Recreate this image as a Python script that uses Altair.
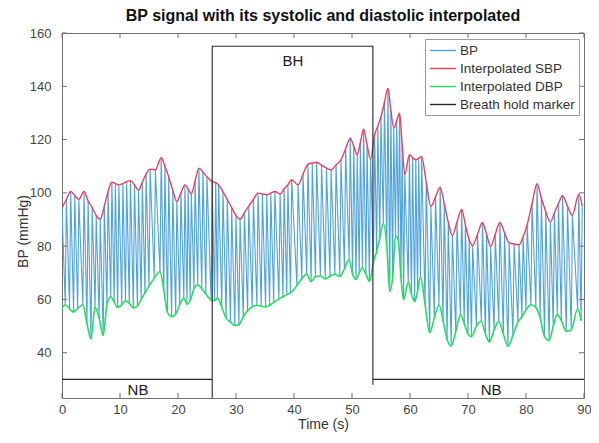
import altair as alt
import pandas as pd

FONT = "Liberation Sans"
W, H = 522, 365

# ---- data ----
beat_time = [
    0.0, 0.75, 1.5, 2.2, 2.9, 3.8, 4.5, 5.2, 5.9, 6.6,
    7.3, 7.95, 8.6, 9.2, 9.8, 10.5, 11.15, 11.8, 12.5, 13.2,
    13.85, 14.5, 15.2, 16.1, 17.1, 17.75, 18.4, 19.1, 19.8, 20.5,
    21.2, 21.75, 22.3, 22.95, 23.6, 24.3, 25.0, 25.9, 26.5, 27.0,
    27.75, 28.5, 29.25, 30.0, 30.7, 31.45, 32.2, 33.0, 33.8, 34.55,
    35.3, 36.0, 36.7, 37.6, 38.3, 38.95, 39.6, 40.7, 41.55, 42.4,
    43.15, 43.9, 44.75, 45.6, 46.4, 47.25, 48.1, 48.9, 49.7, 50.3,
    50.9, 51.45, 52.0, 52.6, 53.2, 53.9, 54.45, 55.0, 55.6, 56.2,
    56.7, 57.2, 57.7, 58.2, 58.65, 59.1, 59.9, 60.45, 61.0, 61.5,
    62.0, 62.8, 63.6, 64.4, 65.2, 65.9, 66.6, 67.3, 68.1, 68.9,
    69.55, 70.2, 70.8, 71.65, 72.5, 73.2, 73.9, 74.7, 75.5, 76.3,
    77.1, 77.95, 78.8, 79.5, 80.2, 81.05, 81.9, 82.65, 83.4, 84.2,
    84.9, 85.6, 86.3, 87.15, 88.0, 89.1, 89.7,
]
sbp = [
    94.4, 97.5, 100.5, 99.0, 97.6, 100.5, 97.0, 94.5, 91.5, 90.1,
    95.0, 100.5, 104.0, 103.5, 103.0, 103.5, 104.2, 104.6, 103.0, 101.0,
    104.0, 107.0, 108.9, 108.6, 113.2, 110.0, 106.0, 101.0, 96.7, 100.0,
    103.0, 101.5, 99.6, 104.5, 109.3, 107.8, 106.0, 104.2, 103.8, 103.0,
    100.5, 97.5, 94.5, 91.5, 90.1, 92.5, 95.0, 97.5, 99.9, 99.6,
    99.3, 99.9, 100.5, 99.6, 101.5, 103.0, 104.9, 103.0, 107.0, 110.7,
    111.2, 111.5, 110.4, 109.3, 108.6, 110.5, 112.4, 116.5, 120.5, 117.5,
    114.3, 119.0, 123.9, 118.0, 112.6, 121.8, 125.0, 128.6, 134.0, 139.3,
    131.0, 124.3, 127.0, 129.9, 118.0, 106.8, 114.3, 113.2, 112.4, 113.0,
    113.6, 104.0, 94.9, 98.5, 102.1, 96.0, 89.0, 84.0, 89.0, 93.8,
    88.0, 82.5, 80.2, 84.5, 88.9, 84.5, 79.9, 84.5, 88.9, 85.0,
    81.2, 80.8, 80.5, 83.5, 88.0, 96.0, 103.4, 98.0, 93.0, 89.0,
    92.5, 96.0, 98.9, 95.0, 91.6, 99.6, 95.0,
]
dbp = [
    56.1, 58.0, 56.5, 55.2, 56.6, 58.0, 51.0, 45.2, 57.0, 53.0,
    46.5, 58.0, 61.0, 59.0, 57.0, 58.0, 59.5, 58.5, 56.8, 57.5,
    60.0, 62.4, 65.0, 68.0, 70.5, 63.5, 55.0, 53.5, 54.5, 58.0,
    60.5, 58.2, 59.5, 64.0, 65.5, 64.0, 62.0, 59.8, 59.5, 60.5,
    57.0, 53.0, 51.5, 50.2, 50.5, 53.5, 55.8, 57.2, 57.8, 57.5,
    57.2, 57.8, 58.9, 60.2, 61.0, 61.8, 62.4, 65.2, 67.8, 69.5,
    66.7, 68.5, 68.8, 67.7, 68.7, 69.5, 68.6, 71.5, 75.0, 69.5,
    67.5, 70.0, 71.8, 69.5, 66.7, 74.0, 78.0, 83.0, 88.6, 80.0,
    63.0, 68.0, 83.9, 82.0, 68.0, 59.9, 66.5, 62.0, 59.2, 63.0,
    68.6, 58.0, 47.5, 53.0, 58.0, 52.0, 45.0, 42.5, 48.0, 54.3,
    51.0, 47.0, 46.0, 50.0, 51.8, 47.0, 44.0, 48.5, 51.8, 47.0,
    42.4, 46.5, 51.5, 53.5, 56.0, 58.0, 57.0, 53.0, 46.0, 44.5,
    50.0, 54.3, 52.0, 48.0, 48.5, 56.5, 52.0,
]
UPSTROKE = 0.2  # s: the diastolic trough comes just before each systolic peak

marker_time = [0, 25.9, 25.9, 25.9, 53.6, 53.6, 53.6, 90]
marker_level = [30, 30, 23, 155, 155, 28, 30, 30]

label_text = ["NB", "BH", "NB"]
label_time = [13.1, 39.8, 74.0]
label_level = [26.0, 149.5, 26.0]

x_ticks = [0, 10, 20, 30, 40, 50, 60, 70, 80, 90]
y_ticks = [40, 60, 80, 100, 120, 140, 160]

series_names = ["BP", "Interpolated SBP", "Interpolated DBP", "Breath hold marker"]
series_colors = ["#4FA3DC", "#EC3E5B", "#20DF5C", "#262626"]

# ---- tables ----
trough_time = [t - UPSTROKE for t in beat_time]
bp_time, bp_val = [], []
for tt, d, tp, s in zip(trough_time, dbp, beat_time, sbp):
    bp_time += [tt, tp]
    bp_val += [d, s]
bp_df = pd.DataFrame({"time": bp_time, "value": bp_val, "series": "BP"})
bp_df["order"] = range(len(bp_df))
sbp_df = pd.DataFrame({"time": beat_time, "value": sbp, "series": "Interpolated SBP"})
dbp_df = pd.DataFrame({"time": trough_time, "value": dbp, "series": "Interpolated DBP"})
mk_df = pd.DataFrame({"time": marker_time, "value": marker_level, "series": "Breath hold marker"})
mk_df["order"] = range(len(mk_df))
lab_df = pd.DataFrame({"time": label_time, "value": label_level, "text": label_text})
xt_df = pd.DataFrame({"time": x_ticks})
yt_df = pd.DataFrame({"value": y_ticks})

xs = alt.Scale(domain=[0, 90], nice=False, zero=False)
ys = alt.Scale(domain=[23, 160], nice=False, zero=False)
AXC = "#6f6f6f"

legend = alt.Legend(
    title=None, orient="none", legendX=363, legendY=6,
    symbolType="M-1,0H3", symbolSize=169, symbolStrokeWidth=1.4,
    labelOffset=16, labelFont=FONT, labelFontSize=13.5, labelColor="#333",
    rowPadding=4, padding=4, strokeColor="#9a9a9a", fillColor="white",
    cornerRadius=0,
)
color = alt.Color("series:N", scale=alt.Scale(domain=series_names, range=series_colors), legend=legend)

xaxis = alt.Axis(
    values=x_ticks, title="Time (s)", labelFont=FONT, labelFontSize=13, labelColor="#444",
    labelPadding=5, labelFlush=False, labelOverlap=False,
    titleFont=FONT, titleFontSize=14, titleFontWeight="normal", titleColor="#333", titlePadding=1,
    ticks=False, domain=False, grid=False,
)
yaxis = alt.Axis(
    values=y_ticks, title="BP (mmHg)", labelFont=FONT, labelFontSize=13, labelColor="#444",
    labelPadding=11, labelFlush=False, labelOverlap=False,
    titleFont=FONT, titleFontSize=14, titleFontWeight="normal", titleColor="#333",
    titleX=-32, titleY=198, titleAngle=270, titleAlign="center", titleBaseline="bottom",
    ticks=False, domain=False, grid=False,
)

X = alt.X("time:Q", scale=xs, axis=xaxis)
Y = alt.Y("value:Q", scale=ys, axis=yaxis)

bp_line = alt.Chart(bp_df).mark_line(strokeWidth=1.1, clip=True).encode(
    x=X, y=Y, color=color, order="order:Q",
)
sbp_line = alt.Chart(sbp_df).mark_line(strokeWidth=1.4, interpolate="monotone", clip=True).encode(
    x=X, y=Y, color=color,
)
dbp_line = alt.Chart(dbp_df).mark_line(strokeWidth=1.6, interpolate="monotone", clip=True).encode(
    x=X, y=Y, color=color,
)
mk_line = alt.Chart(mk_df).mark_line(strokeWidth=1.1).encode(
    x=X, y=Y, color=color, order="order:Q",
)
labels = alt.Chart(lab_df).mark_text(font=FONT, fontSize=15, color="#1a1a1a", baseline="middle", align="center").encode(
    x=X, y=Y, text="text:N",
)
bottom_ticks = alt.Chart(xt_df).mark_rule(color=AXC, strokeWidth=1).encode(
    x=X, y=alt.value(H), y2=alt.value(H - 5))
top_ticks = alt.Chart(xt_df).mark_rule(color=AXC, strokeWidth=1).encode(
    x=X, y=alt.value(0), y2=alt.value(5))
left_ticks = alt.Chart(yt_df).mark_rule(color=AXC, strokeWidth=1).encode(
    y=Y, x=alt.value(0), x2=alt.value(5))
right_ticks = alt.Chart(yt_df).mark_rule(color=AXC, strokeWidth=1).encode(
    y=Y, x=alt.value(W), x2=alt.value(W - 5))

chart = alt.layer(
    bp_line, sbp_line, dbp_line, mk_line, labels,
    bottom_ticks, top_ticks, left_ticks, right_ticks,
).properties(
    width=W, height=H,
    title=alt.TitleParams(
        "BP signal with its systolic and diastolic interpolated",
        font=FONT, fontSize=16, fontWeight="bold", color="#111", anchor="middle",
        frame="group", offset=3,
    ),
    padding={"left": 54, "top": 25, "right": 7, "bottom": 37},
    autosize=alt.AutoSizeParams(type="none"),
).configure_view(stroke=AXC, strokeWidth=1)

chart.save("out.html", embed_options={"renderer": "svg", "actions": False})
